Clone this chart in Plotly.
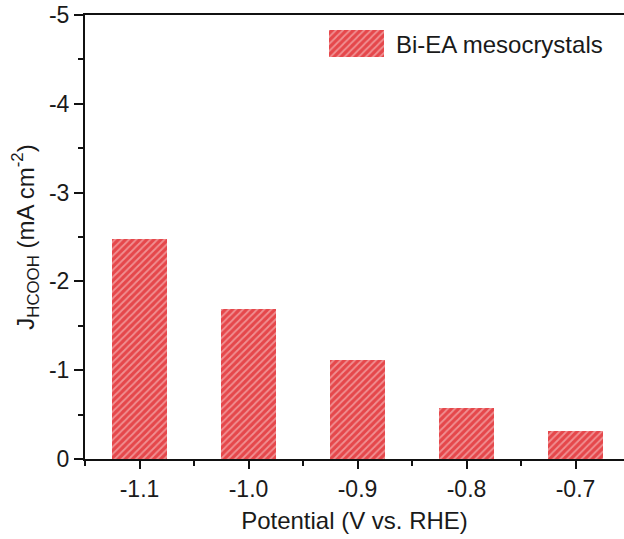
import plotly.graph_objects as go

potentials = [-1.1, -1.0, -0.9, -0.8, -0.7]
tick_labels = ["-1.1", "-1.0", "-0.9", "-0.8", "-0.7"]
j_hcooh = [-2.48, -1.69, -1.11, -0.57, -0.32]
y_ticks = [0, -1, -2, -3, -4, -5]
y_tick_labels = ["0", "-1", "-2", "-3", "-4", "-5"]
series_name = "Bi-EA mesocrystals"

RED = "#E5474B"
STRIPE = "#FBD9D9"
FONT = "Liberation Sans, Arial, sans-serif"
TXT = "#1a1a1a"
FS = 24

fig = go.Figure()
fig.add_trace(go.Bar(
    x=potentials, y=j_hcooh, width=0.051, name=series_name, showlegend=False,
    marker=dict(color=RED, line=dict(width=0),
                pattern=dict(shape="/", fgcolor=STRIPE, bgcolor=RED, size=5, solidity=0.35)),
))
# legend swatch drawn as a bar in a small dedicated axis
fig.add_trace(go.Bar(
    x=[0], y=[1], width=1, showlegend=False, xaxis="x2", yaxis="y2", hoverinfo="skip",
    marker=dict(color=RED, line=dict(width=0),
                pattern=dict(shape="/", fgcolor=STRIPE, bgcolor=RED, size=5, solidity=0.35)),
))

W, H = 624, 539
L, R, T, B = 85, 0, 15, 80
pw, ph = W - L - R, H - T - B
sx0, sx1, sy0, sy1 = 329, 384, 30, 57
fig.update_layout(
    width=W, height=H,
    margin=dict(l=L, r=R, t=T, b=B, autoexpand=False),
    plot_bgcolor="white", paper_bgcolor="white",
    font=dict(family=FONT, color=TXT, size=FS),
    bargap=0,
    xaxis=dict(
        range=[-1.15, -1.15 + 0.1 * pw / 109.0],
        tickvals=potentials, ticktext=tick_labels,
        showline=True, linecolor="#111", linewidth=2, mirror=True,
        ticks="outside", ticklen=8, tickwidth=2, tickcolor="#111",
        minor=dict(tick0=-1.05, dtick=0.1, ticks="outside", ticklen=5, tickwidth=2, tickcolor="#111"),
        showgrid=False, zeroline=False, automargin=False,
        tickfont=dict(size=FS - 1),
        title=dict(text="Potential (V vs. RHE)", font=dict(size=FS), standoff=12),
    ),
    yaxis=dict(
        range=[0, -5], tickvals=y_ticks, ticktext=y_tick_labels,
        showline=True, linecolor="#111", linewidth=2, mirror=False,
        ticks="outside", ticklen=9, tickwidth=2, tickcolor="#111",
        minor=dict(tickvals=[-0.5, -1.5, -2.5, -3.5, -4.5], ticks="outside", ticklen=5,
                   tickwidth=2, tickcolor="#111"),
        showgrid=False, zeroline=False, automargin=False,
        tickfont=dict(size=FS - 1),
        title=dict(text="J<sub>HCOOH</sub> (mA cm<sup>-2</sup>)", font=dict(size=FS), standoff=8),
    ),
    xaxis2=dict(domain=[(sx0 - L) / pw, (sx1 - L) / pw], anchor="y2", range=[-0.5, 0.5],
                visible=False, fixedrange=True),
    yaxis2=dict(domain=[1 - (sy1 - T) / ph, 1 - (sy0 - T) / ph], anchor="x2", range=[0, 1],
                visible=False, fixedrange=True),
    annotations=[dict(
        text=series_name, xref="paper", yref="paper",
        x=(394 - L) / pw, y=1 - (44 - T) / ph, xanchor="left", yanchor="middle",
        showarrow=False, font=dict(size=FS, color=TXT),
    )],
)

fig.write_html("out.html")
